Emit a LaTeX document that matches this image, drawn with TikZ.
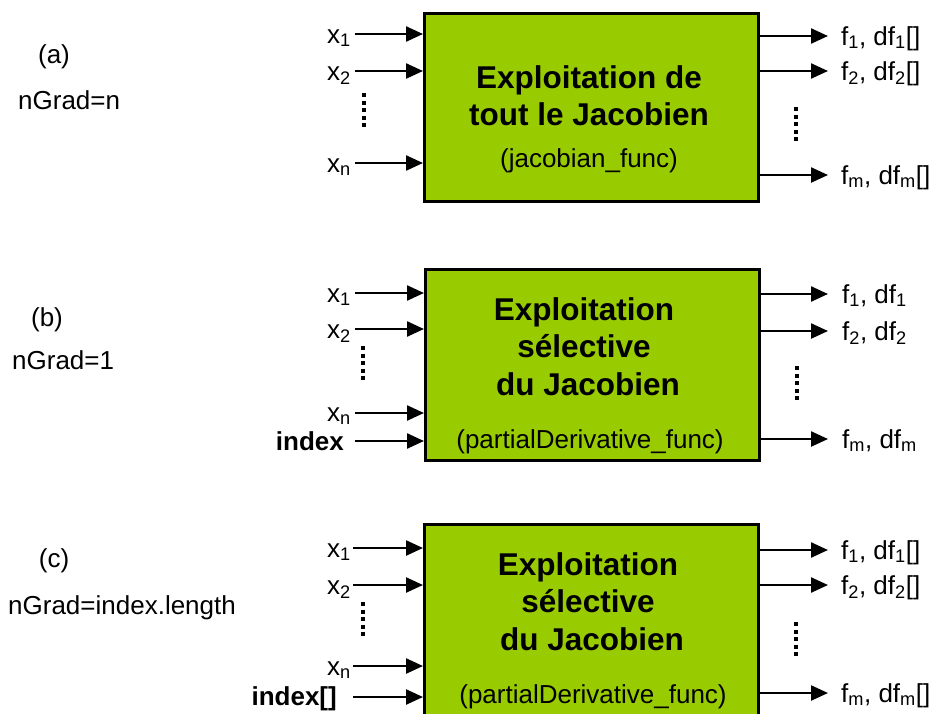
\documentclass[tikz,border=0pt]{standalone}
\usepackage{fontspec}
\setmainfont{Liberation Sans}
\usetikzlibrary{arrows.meta}
\definecolor{boxgreen}{HTML}{99CC00}
\begin{document}
\begin{tikzpicture}[x=1pt,y=-1pt,
  fbox/.style={draw=black, line width=3pt, fill=boxgreen, minimum width=334pt, inner sep=0pt},
  arr/.style={line width=2.4pt, -{Triangle[length=17pt,width=15pt]}},
  lab/.style={font=\fontsize{26}{30}\selectfont, inner sep=0pt},
  blab/.style={font=\fontsize{26}{30}\selectfont\bfseries, inner sep=0pt},
  ttl/.style={font=\fontsize{31.5}{36}\selectfont\bfseries, inner sep=0pt, anchor=base},
  sub/.style={font=\fontsize{26}{30}\selectfont, inner sep=0pt, anchor=base},
  vdots/.style={line width=4pt, dash pattern=on 4pt off 3.5pt}
]
\useasboundingbox (0,0) rectangle (929,713);
\clip (0,0) rectangle (929,713);

% ---------- left labels
\node[lab, anchor=base] (la) at (54,63) {(a)};
\node[lab, anchor=base west] (ga) at (18,109) {nGrad=n};
\node[lab, anchor=base] (lb) at (47,326) {(b)};
\node[lab, anchor=base west] (gb) at (12,369) {nGrad=1};
\node[lab, anchor=base] (lc) at (54,567) {(c)};
\node[lab, anchor=base west] (gc) at (8,614) {nGrad=index.length};

% ---------- boxes
\node[fbox, minimum height=188pt] (ba) at (591.5,107) {};
\node[fbox, minimum height=191pt] (bb) at (592.5,364.5) {};
\node[fbox, minimum height=191pt] (bc) at (591.5,620) {};

% ---------- box texts
\node[ttl] (ta1) at (589,88) {Exploitation de};
\node[ttl] (ta2) at (589,125) {tout le Jacobien};
\node[sub] (ta3) at (589,167) {(jacobian\_func)};

\node[ttl] (tb1) at (584,320) {Exploitation};
\node[ttl] (tb2) at (584,357) {sélective};
\node[ttl] (tb3) at (588,395) {du Jacobien};
\node[sub] (tb4) at (590,448) {(partialDerivative\_func)};

\node[ttl] (tc1) at (588,575) {Exploitation};
\node[ttl] (tc2) at (588,612) {sélective};
\node[ttl] (tc3) at (592,650) {du Jacobien};
\node[sub] (tc4) at (593,703) {(partialDerivative\_func)};

% ---------- inputs (a)
\node[lab, anchor=base east] (xa1) at (351,43) {x\textsubscript{1}};
\node[lab, anchor=base east] (xa2) at (351,80) {x\textsubscript{2}};
\node[lab, anchor=base east] (xan) at (351,172) {x\textsubscript{n}};
\coordinate (ia1) at (355,34);
\coordinate (ia2) at (355,71);
\coordinate (ian) at (355,163);
\draw[arr] (ia1) -- (ia1 -| ba.west);
\draw[arr] (ia2) -- (ia2 -| ba.west);
\draw[arr] (ian) -- (ian -| ba.west);
\coordinate (da1) at (364,93);
\coordinate (da2) at (364,128);
\draw[vdots] (da1) -- (da2);

% ---------- outputs (a)
\coordinate (oa1) at (828,36);
\coordinate (oa2) at (828,71);
\coordinate (oam) at (828,175);
\draw[arr] (oa1 -| ba.east) -- (oa1);
\draw[arr] (oa2 -| ba.east) -- (oa2);
\draw[arr] (oam -| ba.east) -- (oam);
\node[lab, anchor=base west] (fa1) at (841,45) {f\textsubscript{1}, df\textsubscript{1}[]};
\node[lab, anchor=base west] (fa2) at (841,80) {f\textsubscript{2}, df\textsubscript{2}[]};
\node[lab, anchor=base west] (fam) at (841,184) {f\textsubscript{m}, df\textsubscript{m}[]};
\coordinate (ea1) at (796,107);
\coordinate (ea2) at (796,142);
\draw[vdots] (ea1) -- (ea2);

% ---------- inputs (b)
\node[lab, anchor=base east] (xb1) at (351,302) {x\textsubscript{1}};
\node[lab, anchor=base east] (xb2) at (351,338) {x\textsubscript{2}};
\node[lab, anchor=base east] (xbn) at (351,421) {x\textsubscript{n}};
\node[blab, anchor=base east] (xbi) at (344,450) {index};
\coordinate (ib1) at (355,293);
\coordinate (ib2) at (355,329);
\coordinate (ibn) at (355,413);
\coordinate (ibi) at (355,441);
\draw[arr] (ib1) -- (ib1 -| bb.west);
\draw[arr] (ib2) -- (ib2 -| bb.west);
\draw[arr] (ibn) -- (ibn -| bb.west);
\draw[arr] (ibi) -- (ibi -| bb.west);
\coordinate (db1) at (363,346);
\coordinate (db2) at (363,381);
\draw[vdots] (db1) -- (db2);

% ---------- outputs (b)
\coordinate (ob1) at (828,294);
\coordinate (ob2) at (828,331);
\coordinate (obm) at (828,439);
\draw[arr] (ob1 -| bb.east) -- (ob1);
\draw[arr] (ob2 -| bb.east) -- (ob2);
\draw[arr] (obm -| bb.east) -- (obm);
\node[lab, anchor=base west] (fb1) at (842,303) {f\textsubscript{1}, df\textsubscript{1}};
\node[lab, anchor=base west] (fb2) at (842,340) {f\textsubscript{2}, df\textsubscript{2}};
\node[lab, anchor=base west] (fbm) at (842,448) {f\textsubscript{m}, df\textsubscript{m}};
\coordinate (eb1) at (797,366);
\coordinate (eb2) at (797,401);
\draw[vdots] (eb1) -- (eb2);

% ---------- inputs (c)
\node[lab, anchor=base east] (xc1) at (351,557) {x\textsubscript{1}};
\node[lab, anchor=base east] (xc2) at (351,594) {x\textsubscript{2}};
\node[lab, anchor=base east] (xcn) at (351,675) {x\textsubscript{n}};
\node[blab, anchor=base east] (xci) at (337,705) {index[]};
\coordinate (ic1) at (353,548);
\coordinate (ic2) at (353,585);
\coordinate (icn) at (353,666);
\coordinate (ici) at (353,697);
\draw[arr] (ic1) -- (ic1 -| bc.west);
\draw[arr] (ic2) -- (ic2 -| bc.west);
\draw[arr] (icn) -- (icn -| bc.west);
\draw[arr] (ici) -- (ici -| bc.west);
\coordinate (dc1) at (363,602);
\coordinate (dc2) at (363,637);
\draw[vdots] (dc1) -- (dc2);

% ---------- outputs (c)
\coordinate (oc1) at (828,550);
\coordinate (oc2) at (828,585);
\coordinate (ocm) at (828,693);
\draw[arr] (oc1 -| bc.east) -- (oc1);
\draw[arr] (oc2 -| bc.east) -- (oc2);
\draw[arr] (ocm -| bc.east) -- (ocm);
\node[lab, anchor=base west] (fc1) at (841,559) {f\textsubscript{1}, df\textsubscript{1}[]};
\node[lab, anchor=base west] (fc2) at (841,594) {f\textsubscript{2}, df\textsubscript{2}[]};
\node[lab, anchor=base west] (fcm) at (841,702) {f\textsubscript{m}, df\textsubscript{m}[]};
\coordinate (ec1) at (796,622);
\coordinate (ec2) at (796,657);
\draw[vdots] (ec1) -- (ec2);
\end{tikzpicture}
\end{document}
